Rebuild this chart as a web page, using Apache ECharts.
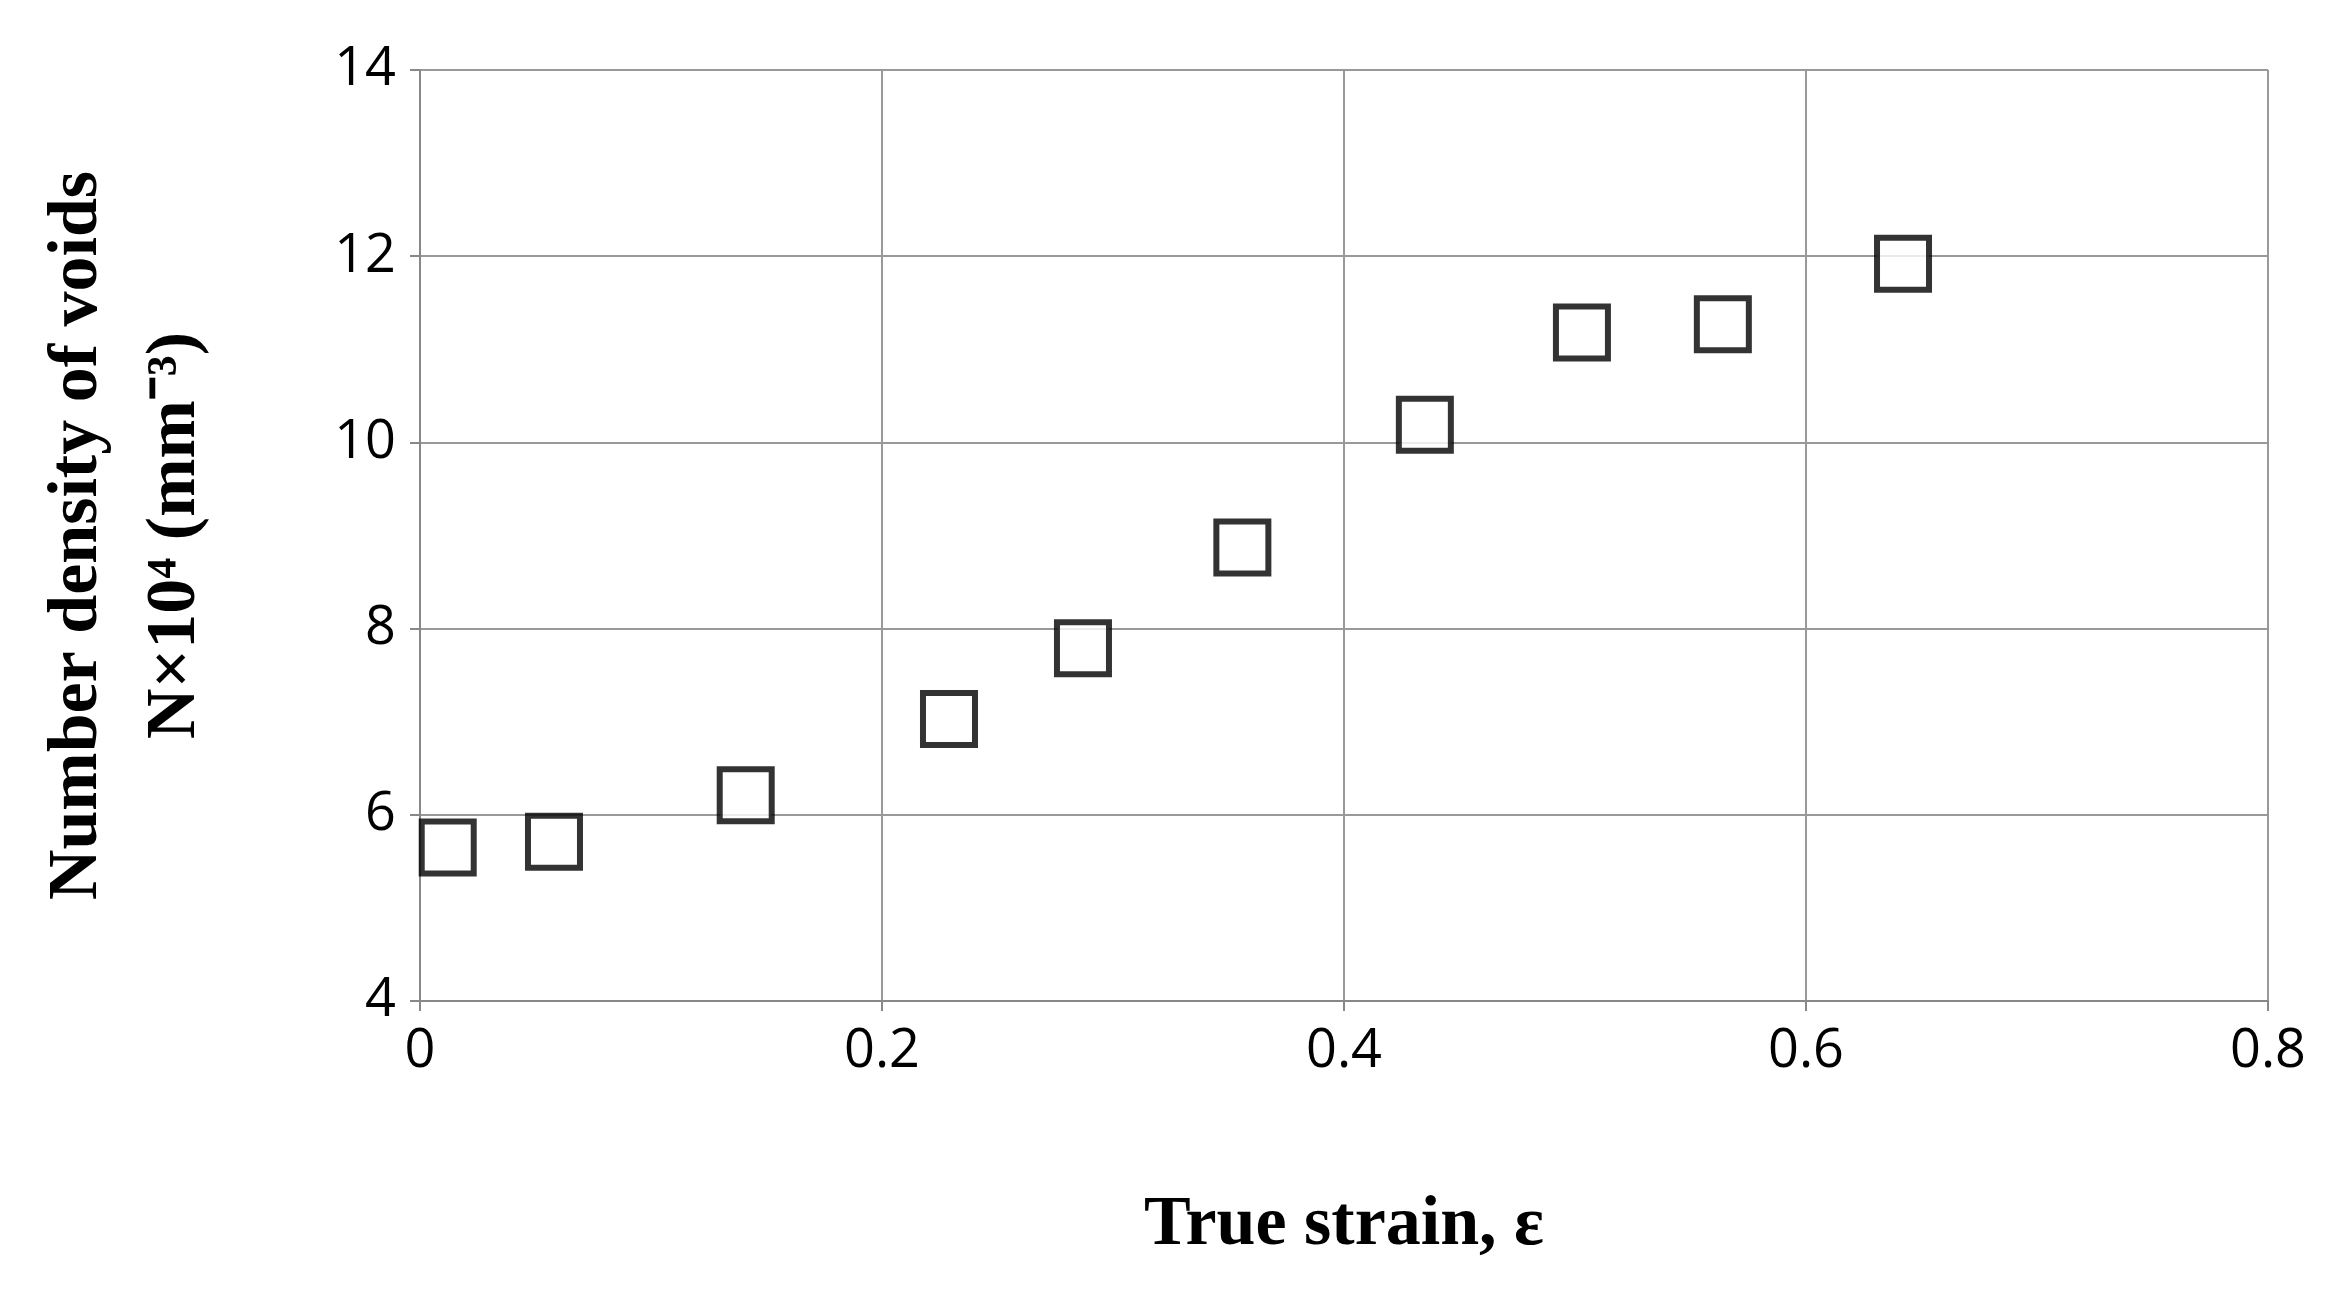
<!DOCTYPE html>
<html>
<head>
<meta charset="utf-8">
<script src="https://cdn.jsdelivr.net/npm/echarts@6/dist/echarts.min.js"></script>
<style>html,body{margin:0;padding:0;background:#fff}#c{width:2342px;height:1291px}</style>
</head>
<body>
<div id="c"></div>
<script>
var strain = [0.012, 0.058, 0.141, 0.229, 0.287, 0.356, 0.435, 0.503, 0.564, 0.642];
var density = [5.65, 5.71, 6.21, 7.03, 7.79, 8.87, 10.19, 11.18, 11.27, 11.92];
var xTitle = 'True strain, ε';
var yTitle = 'Number density of voids\nN×10⁴ (mm⁻³)';

var points = [];
for (var i = 0; i < strain.length; i++) {
    points.push([strain[i], density[i]]);
}

var chart = echarts.init(document.getElementById('c'));
chart.setOption({
    animation: false,
    grid: { left: 420, right: 74, top: 70, bottom: 290 },
    xAxis: {
        type: 'value', min: 0, max: 0.8, interval: 0.2,
        name: xTitle, nameLocation: 'middle', nameGap: 190,
        nameTextStyle: { fontFamily: 'Liberation Serif', fontWeight: 'bold', fontSize: 70, color: '#000' },
        axisLine: { show: true, lineStyle: { color: '#888', width: 2 } },
        axisTick: { show: true, length: 10, lineStyle: { color: '#888', width: 2 } },
        axisLabel: { fontFamily: 'Open Sans', fontSize: 54, color: '#000', margin: 24 },
        splitLine: { show: true, lineStyle: { color: '#999', width: 2 } }
    },
    yAxis: {
        type: 'value', min: 4, max: 14, interval: 2,
        name: yTitle, nameLocation: 'middle', nameGap: 195, nameRotate: 90,
        nameTextStyle: { fontFamily: 'Liberation Serif', fontWeight: 'bold', fontSize: 70, color: '#000', lineHeight: 98 },
        axisLine: { show: true, lineStyle: { color: '#888', width: 2 } },
        axisTick: { show: true, length: 10, lineStyle: { color: '#888', width: 2 } },
        axisLabel: { fontFamily: 'Open Sans', fontSize: 54, color: '#000', margin: 24 },
        splitLine: { show: true, lineStyle: { color: '#999', width: 2 } }
    },
    series: [{
        type: 'scatter',
        data: points,
        symbol: 'rect',
        symbolSize: 52,
        itemStyle: { color: '#fff', borderColor: '#000', borderWidth: 6 }
    }]
});
</script>
</body>
</html>
